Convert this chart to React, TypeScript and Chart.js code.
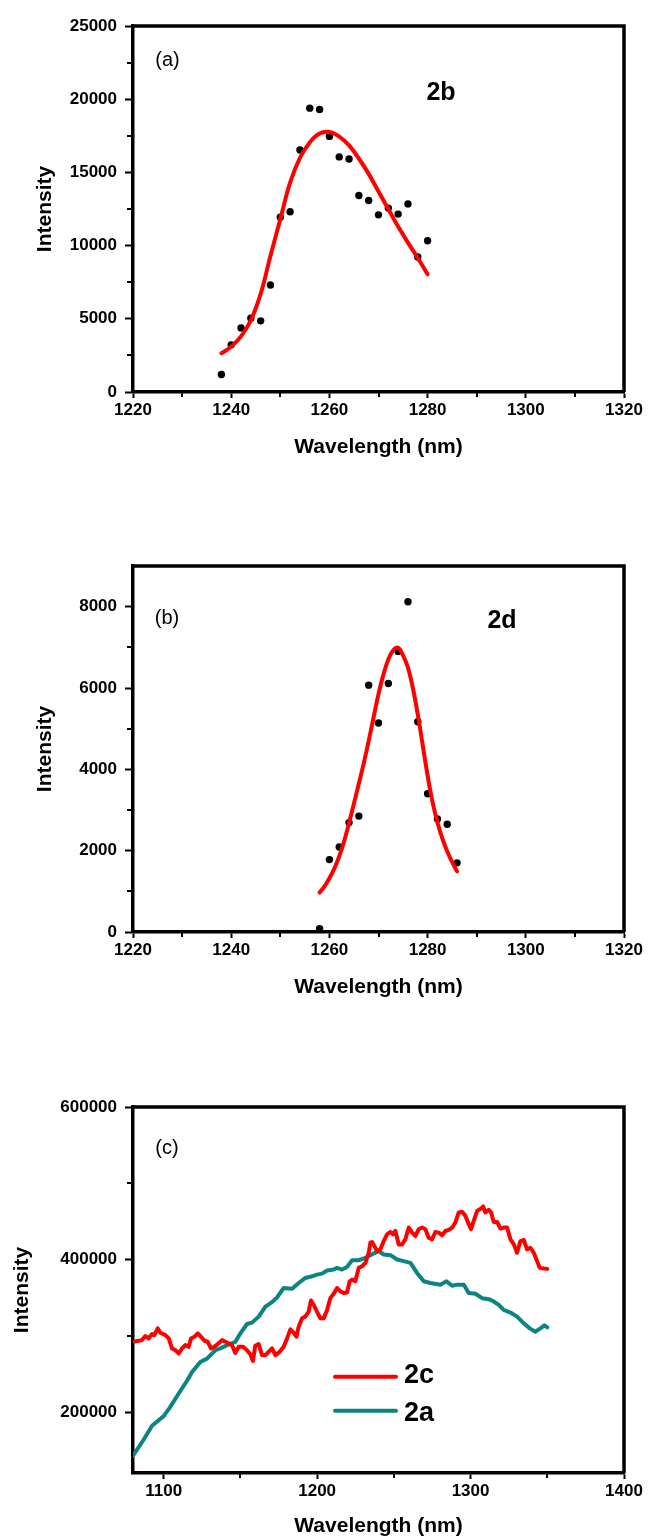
import React, { useEffect, useRef } from 'react';
import { Chart, registerables } from 'chart.js';

Chart.register(...registerables);

const FONT = "'Liberation Sans', Arial, Helvetica, sans-serif";

// ---------- Panel (a): sample 2b ----------
const aWavelength = [1238, 1240, 1242, 1244, 1246, 1248, 1250, 1252, 1254, 1256, 1258, 1260, 1262, 1264, 1266, 1268, 1270, 1272, 1274, 1276, 1278, 1280];
const aIntensity = [1200, 3220, 4380, 5040, 4860, 7310, 11940, 12310, 16530, 19390, 19300, 17460, 16060, 15920, 13420, 13080, 12100, 12560, 12150, 12850, 9220, 10330];
const aFitWavelength = [1238, 1239, 1240, 1242, 1244, 1246, 1248, 1250, 1252, 1254, 1256, 1258, 1260, 1262, 1264, 1266, 1268, 1270, 1272, 1274, 1276, 1278, 1280];
const aFitIntensity = [2650, 2850, 3100, 3800, 4900, 6700, 9300, 11800, 14300, 16000, 17050, 17650, 17760, 17450, 16850, 15950, 14900, 13700, 12500, 11300, 10200, 9150, 8040];
const aYTicks = [0, 5000, 10000, 15000, 20000, 25000];
const aYMinorTicks = [2500, 7500, 12500, 17500, 22500];

// ---------- Panel (b): sample 2d ----------
const bWavelength = [1258, 1260, 1262, 1264, 1266, 1268, 1270, 1272, 1274, 1276, 1278, 1280, 1282, 1284, 1286];
const bIntensity = [80, 1780, 2090, 2690, 2850, 6070, 5140, 6110, 6900, 8120, 5170, 3400, 2780, 2650, 1700];
const bFitWavelength = [1258, 1259, 1260, 1261, 1262, 1263, 1264, 1265, 1266, 1267, 1268, 1269, 1270, 1271, 1272, 1273, 1274, 1275, 1276, 1277, 1278, 1279, 1280, 1281, 1282, 1283, 1284, 1285, 1286];
const bFitIntensity = [970, 1120, 1320, 1560, 1860, 2230, 2680, 3160, 3650, 4150, 4700, 5280, 5850, 6330, 6700, 6930, 6990, 6800, 6500, 6000, 5350, 4600, 3850, 3200, 2700, 2300, 1980, 1720, 1490];
const bYTicks = [0, 2000, 4000, 6000, 8000];
const bYMinorTicks = [1000, 3000, 5000, 7000];

// shared x axis of (a) and (b)
const abXTicks = [1220, 1240, 1260, 1280, 1300, 1320];
const abXMinorTicks = [1230, 1250, 1270, 1290, 1310];

// ---------- Panel (c): spectra 2c and 2a ----------
const cWavelength2c = [1080.0, 1083.7, 1085.9, 1088.0, 1090.2, 1092.4, 1093.9, 1096.1, 1097.8, 1101.1, 1103.3, 1105.4, 1107.6, 1109.8, 1111.9, 1114.1, 1116.3, 1117.8, 1120.0, 1122.2, 1124.3, 1126.5, 1128.7, 1130.8, 1133.0, 1135.2, 1138.0, 1140.2, 1142.4, 1144.5, 1146.7, 1148.9, 1151.7, 1154.3, 1156.5, 1158.2, 1159.7, 1161.9, 1164.1, 1166.3, 1168.4, 1170.6, 1172.8, 1175.6, 1178.2, 1180.4, 1182.6, 1184.7, 1186.5, 1188.0, 1190.2, 1192.3, 1194.5, 1196.0, 1197.8, 1200.4, 1202.1, 1204.3, 1206.5, 1208.6, 1210.8, 1213.0, 1215.2, 1217.3, 1219.5, 1221.2, 1222.8, 1224.9, 1227.1, 1229.3, 1231.5, 1233.6, 1234.7, 1235.8, 1237.3, 1239.1, 1241.2, 1243.4, 1245.6, 1247.8, 1249.5, 1251.0, 1253.2, 1255.4, 1257.5, 1259.7, 1261.9, 1264.1, 1266.2, 1268.4, 1270.6, 1272.7, 1274.9, 1277.1, 1279.3, 1281.4, 1283.6, 1285.8, 1288.0, 1290.1, 1292.3, 1294.5, 1296.6, 1298.8, 1300.3, 1302.1, 1304.3, 1306.4, 1308.2, 1309.7, 1311.9, 1313.4, 1315.1, 1317.3, 1319.5, 1321.6, 1323.8, 1326.0, 1328.2, 1330.3, 1332.5, 1334.7, 1336.8, 1339.0, 1341.2, 1343.4, 1345.1, 1347.7, 1350.0];
const cIntensity2c = [292000, 293400, 294300, 299600, 296500, 302200, 300900, 309700, 304000, 300900, 296500, 283300, 281100, 276700, 283300, 287700, 285500, 296500, 298700, 303100, 298700, 293400, 292100, 283300, 285500, 289000, 294300, 292100, 289900, 287700, 277500, 285500, 285500, 281100, 275800, 267000, 286800, 289000, 274500, 274500, 278900, 283300, 274500, 278900, 285500, 296500, 308400, 304000, 298700, 311900, 322900, 325100, 331700, 346300, 340500, 329500, 322900, 322900, 333900, 349300, 355100, 362600, 358200, 356000, 356800, 371400, 373600, 371400, 389000, 391200, 395600, 408800, 422000, 422900, 417600, 411000, 413200, 424200, 433000, 436100, 433000, 437400, 419800, 419800, 426400, 441900, 435200, 430800, 439700, 441900, 439700, 428600, 426400, 436100, 435200, 431700, 437400, 438800, 441900, 448500, 461700, 462600, 457300, 446300, 439700, 450700, 463900, 466100, 469600, 461700, 465200, 461700, 449300, 449300, 440500, 441900, 441900, 426400, 419800, 408800, 424200, 425600, 413200, 415400, 408800, 397800, 389000, 388100, 387700];
const cWavelength2a = [1080.0, 1086.9, 1092.4, 1100.0, 1104.3, 1109.8, 1115.2, 1118.5, 1123.9, 1128.2, 1133.7, 1136.9, 1141.3, 1146.7, 1150.0, 1154.3, 1157.6, 1161.9, 1166.3, 1170.6, 1173.9, 1178.2, 1183.7, 1188.0, 1192.3, 1196.7, 1199.9, 1203.2, 1206.5, 1210.8, 1213.0, 1216.2, 1219.5, 1222.8, 1227.1, 1231.5, 1236.9, 1240.1, 1243.4, 1247.8, 1252.1, 1256.4, 1260.8, 1265.1, 1269.5, 1273.8, 1280.4, 1284.3, 1288.0, 1291.2, 1295.6, 1298.8, 1303.2, 1307.5, 1311.9, 1315.1, 1318.4, 1321.6, 1326.0, 1330.3, 1334.7, 1338.6, 1342.3, 1345.5, 1348.1, 1350.0];
const cIntensity2a = [142600, 163600, 182000, 194600, 206700, 224200, 241000, 252400, 265600, 270000, 281000, 283300, 287700, 292100, 303100, 315400, 317200, 325100, 338300, 344100, 350200, 362600, 361700, 369200, 375800, 378000, 380200, 381500, 385500, 386800, 389000, 386800, 390300, 399100, 399100, 402200, 407900, 411000, 406600, 405700, 400000, 397800, 395600, 382400, 371400, 369200, 367000, 371400, 365600, 367000, 367000, 356000, 355100, 349300, 348000, 344900, 340500, 333900, 330400, 325100, 316300, 309700, 305300, 309700, 313700, 311000];
const cXTicks = [1100, 1200, 1300, 1400];
const cXMinorTicks = [1150, 1250, 1350];
const cYTicks = [200000, 400000, 600000];
const cYMinorTicks = [300000, 500000];
const cSeriesNames = ['2c', '2a'];

const RED = '#ff0000';
const TEAL = '#0b8482';

const toPoints = (xs: number[], ys: number[]) => xs.map((x, i) => ({ x, y: ys[i] }));

type Label = { text: string; x: number; y: number; font: string };
type LegendItem = { text: string; color: string; x1: number; x2: number; y: number; ty: number };

function decorPlugin(cfg: { xMinor: number[]; yMinor: number[]; labels: Label[]; legend?: LegendItem[] }) {
  return {
    id: 'decor',
    afterDraw(chart: any) {
      const { ctx, chartArea, scales } = chart;
      const { left, right, top, bottom } = chartArea;
      ctx.save();
      ctx.strokeStyle = '#000';
      ctx.lineWidth = 3.5;
      ctx.beginPath();
      ctx.moveTo(left, top);
      ctx.lineTo(right, top);
      ctx.lineTo(right, bottom);
      ctx.stroke();
      ctx.lineWidth = 2;
      ctx.beginPath();
      cfg.xMinor.forEach((v) => {
        const p = Math.round(scales.x.getPixelForValue(v));
        ctx.moveTo(p, bottom);
        ctx.lineTo(p, bottom + 5);
      });
      cfg.yMinor.forEach((v) => {
        const p = Math.round(scales.y.getPixelForValue(v));
        ctx.moveTo(left, p);
        ctx.lineTo(left - 6, p);
      });
      ctx.stroke();
      ctx.fillStyle = '#000';
      ctx.textAlign = 'center';
      ctx.textBaseline = 'middle';
      cfg.labels.forEach((l) => {
        ctx.font = l.font;
        ctx.fillText(l.text, l.x, l.y);
      });
      (cfg.legend || []).forEach((it) => {
        ctx.strokeStyle = it.color;
        ctx.lineWidth = 4;
        ctx.lineCap = 'round';
        ctx.beginPath();
        ctx.moveTo(it.x1, it.y);
        ctx.lineTo(it.x2, it.y);
        ctx.stroke();
        ctx.fillStyle = '#000';
        ctx.textAlign = 'left';
        ctx.font = `bold 27px ${FONT}`;
        ctx.fillText(it.text, it.x2 + 8, it.ty);
      });
      ctx.restore();
    },
  };
}

function buildOptions(p: {
  xMin: number; xMax: number; xTicks: number[];
  yMin: number; yMax: number; yTicks: number[];
  height: number; xTitlePad: number; yTitlePad: number;
}) {
  const tickFont = { family: FONT, size: 17, weight: 'bold' as const, lineHeight: 1 };
  const titleFont = { family: FONT, size: 21, weight: 'bold' as const, lineHeight: 1.2 };
  return {
    responsive: false,
    animation: false as const,
    devicePixelRatio: 1,
    layout: { padding: { top: 26, right: 24, left: 0, bottom: 0 } },
    plugins: { legend: { display: false }, tooltip: { enabled: false } },
    scales: {
      x: {
        type: 'linear' as const,
        min: p.xMin,
        max: p.xMax,
        afterBuildTicks: (s: any) => { s.ticks = p.xTicks.map((value) => ({ value })); },
        afterFit: (s: any) => { s.height = p.height - 392; },
        grid: { display: true, drawOnChartArea: false, drawTicks: true, tickLength: 6, tickWidth: 2, tickColor: '#000', color: '#000' },
        border: { display: true, color: '#000', width: 3.5 },
        ticks: { color: '#000', font: tickFont, padding: 4, maxRotation: 0, autoSkip: false, callback: (v: any) => String(v) },
        title: { display: true, text: 'Wavelength (nm)', color: '#000', font: titleFont, padding: { top: 0, bottom: p.xTitlePad } },
      },
      y: {
        type: 'linear' as const,
        min: p.yMin,
        max: p.yMax,
        afterBuildTicks: (s: any) => { s.ticks = p.yTicks.map((value) => ({ value })); },
        afterFit: (s: any) => { s.width = 133; },
        grid: { display: true, drawOnChartArea: false, drawTicks: true, tickLength: 8, tickWidth: 2, tickColor: '#000', color: '#000' },
        border: { display: true, color: '#000', width: 3.5 },
        ticks: { color: '#000', font: tickFont, padding: 8, autoSkip: false, callback: (v: any) => String(v) },
        title: { display: true, text: 'Intensity', color: '#000', font: titleFont, padding: { top: p.yTitlePad, bottom: 0 } },
      },
    },
  };
}

function fitDataset(xs: number[], ys: number[], color: string) {
  return {
    data: toPoints(xs, ys),
    showLine: true,
    borderColor: color,
    backgroundColor: color,
    borderWidth: 4,
    pointRadius: 0,
    tension: 0.4,
    cubicInterpolationMode: 'default' as const,
    borderCapStyle: 'round' as const,
    borderJoinStyle: 'round' as const,
    order: 0,
  };
}

function dotDataset(xs: number[], ys: number[]) {
  return {
    data: toPoints(xs, ys),
    showLine: false,
    backgroundColor: '#000',
    borderColor: '#000',
    borderWidth: 0,
    pointRadius: 3.7,
    order: 1,
  };
}

function spectrumDataset(xs: number[], ys: number[], color: string, label: string) {
  return {
    label,
    data: toPoints(xs, ys),
    showLine: true,
    borderColor: color,
    backgroundColor: color,
    borderWidth: 4,
    pointRadius: 0,
    tension: 0,
    borderJoinStyle: 'round' as const,
    borderCapStyle: 'round' as const,
  };
}

export default function App() {
  const refA = useRef<HTMLCanvasElement>(null);
  const refB = useRef<HTMLCanvasElement>(null);
  const refC = useRef<HTMLCanvasElement>(null);

  useEffect(() => {
    const charts: Chart[] = [];

    charts.push(new Chart(refA.current as HTMLCanvasElement, {
      type: 'scatter',
      data: { datasets: [fitDataset(aFitWavelength, aFitIntensity, RED), dotDataset(aWavelength, aIntensity)] as any },
      options: buildOptions({ xMin: 1220, xMax: 1320, xTicks: abXTicks, yMin: 0, yMax: 25000, yTicks: aYTicks, height: 480, xTitlePad: 20.4, yTitlePad: 32.4 }) as any,
      plugins: [decorPlugin({
        xMinor: abXMinorTicks, yMinor: aYMinorTicks,
        labels: [
          { text: '(a)', x: 167.5, y: 60, font: `20px ${FONT}` },
          { text: '2b', x: 441, y: 93, font: `bold 25px ${FONT}` },
        ],
      })],
    }));

    charts.push(new Chart(refB.current as HTMLCanvasElement, {
      type: 'scatter',
      data: { datasets: [fitDataset(bFitWavelength, bFitIntensity, RED), dotDataset(bWavelength, bIntensity)] as any },
      options: buildOptions({ xMin: 1220, xMax: 1320, xTicks: abXTicks, yMin: 0, yMax: 9000, yTicks: bYTicks, height: 480, xTitlePad: 20.4, yTitlePad: 32.4 }) as any,
      plugins: [decorPlugin({
        xMinor: abXMinorTicks, yMinor: bYMinorTicks,
        labels: [
          { text: '(b)', x: 167, y: 78, font: `20px ${FONT}` },
          { text: '2d', x: 502, y: 81, font: `bold 25px ${FONT}` },
        ],
      })],
    }));

    charts.push(new Chart(refC.current as HTMLCanvasElement, {
      type: 'scatter',
      data: { datasets: [
        spectrumDataset(cWavelength2c, cIntensity2c, RED, cSeriesNames[0]),
        spectrumDataset(cWavelength2a, cIntensity2a, TEAL, cSeriesNames[1]),
      ] as any },
      options: buildOptions({ xMin: 1080, xMax: 1400, xTicks: cXTicks, yMin: 120000, yMax: 600000, yTicks: cYTicks, height: 459, xTitlePad: 1.4, yTitlePad: 9.4 }) as any,
      plugins: [decorPlugin({
        xMinor: cXMinorTicks, yMinor: cYMinorTicks,
        labels: [{ text: '(c)', x: 167, y: 67.5, font: `20px ${FONT}` }],
        legend: [
          { text: cSeriesNames[0], color: RED, x1: 335, x2: 396, y: 295.7, ty: 295 },
          { text: cSeriesNames[1], color: TEAL, x1: 335, x2: 396, y: 329.7, ty: 333 },
        ],
      })],
    }));

    return () => charts.forEach((c) => c.destroy());
  }, []);

  const canvasStyle = (top: number): React.CSSProperties => ({ position: 'absolute', left: 0, top, display: 'block' });

  return (
    <div style={{ position: 'absolute', left: 0, top: 0, width: 648, height: 1540, background: '#fff', overflow: 'hidden' }}>
      <canvas ref={refA} width={648} height={480} style={canvasStyle(0)} />
      <canvas ref={refB} width={648} height={480} style={canvasStyle(540)} />
      <canvas ref={refC} width={648} height={459} style={canvasStyle(1081)} />
    </div>
  );
}
